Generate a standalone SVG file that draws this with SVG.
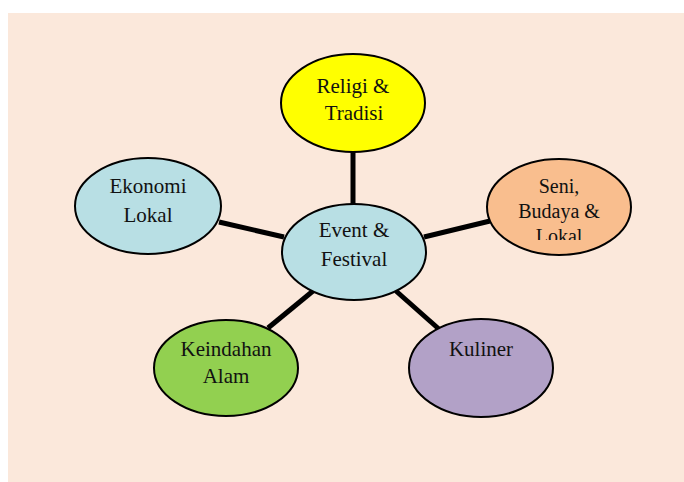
<svg xmlns="http://www.w3.org/2000/svg" width="684" height="482" viewBox="0 0 684 482">
<style>
.n ellipse{stroke:#000;stroke-width:2}
text{font-family:"Liberation Serif","Times New Roman",serif;font-size:21px;fill:#111;text-anchor:middle}
#connectors line{stroke:#000;stroke-width:5}
</style>
<defs>
<clipPath id="sc"><rect x="490" y="165" width="140" height="75"/></clipPath>
</defs>
<rect x="0" y="0" width="684" height="482" fill="#fff"/>
<rect x="8" y="13" width="676" height="469" fill="#FBE8DB"/>
<g id="connectors">
<line x1="353" y1="152" x2="353" y2="205"/>
<line x1="219" y1="222" x2="284" y2="237"/>
<line x1="424" y1="237" x2="490" y2="221"/>
<line x1="268" y1="328" x2="313" y2="291"/>
<line x1="396" y1="291" x2="440" y2="330"/>
</g>
<g id="religi" class="n"><ellipse cx="353" cy="103" rx="72" ry="49" fill="#FFFF00"/><text x="353" y="93">Religi &amp;</text><text x="354" y="120">Tradisi</text></g>
<g id="seni" class="n"><ellipse cx="559" cy="207" rx="72" ry="48" fill="#F9BE8E"/><g clip-path="url(#sc)"><text x="559" y="193" style="font-size:20px">Seni,</text><text x="559" y="218" style="font-size:20px">Budaya &amp;</text><text x="559" y="243" style="font-size:20px">Lokal</text></g></g>
<g id="event" class="n"><ellipse cx="354" cy="252" rx="72" ry="48" fill="#B8DFE4"/><text x="354" y="237">Event &amp;</text><text x="354" y="266">Festival</text></g>
<g id="ekonomi" class="n"><ellipse cx="148" cy="206" rx="73" ry="48" fill="#B8DFE4"/><text x="148" y="193">Ekonomi</text><text x="148" y="222">Lokal</text></g>
<g id="keindahan" class="n"><ellipse cx="226" cy="368" rx="72" ry="48" fill="#92D050"/><text x="226" y="356">Keindahan</text><text x="226" y="383">Alam</text></g>
<g id="kuliner" class="n"><ellipse cx="481" cy="368" rx="72" ry="49" fill="#B2A1C7"/><text x="481" y="356">Kuliner</text></g>
</svg>
